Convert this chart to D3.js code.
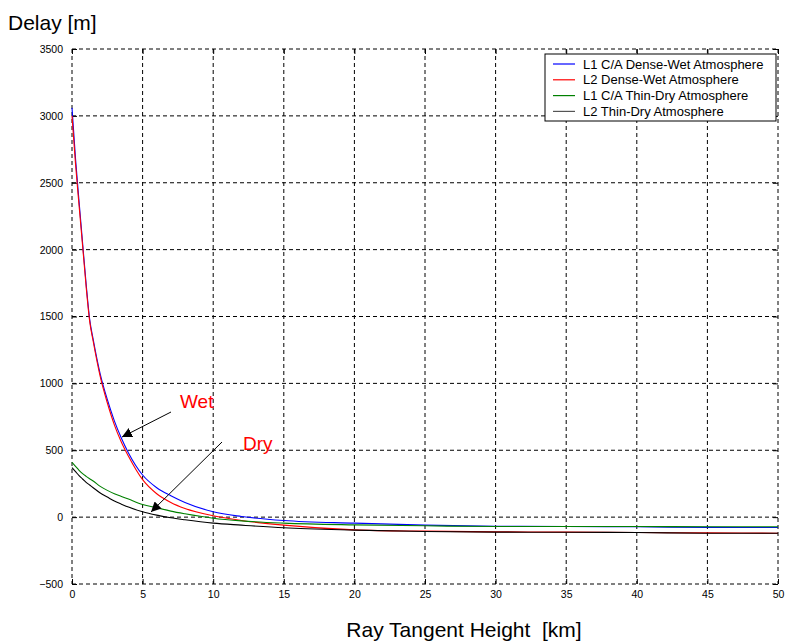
<!DOCTYPE html>
<html><head><meta charset="utf-8">
<script src="https://cdn.jsdelivr.net/npm/d3@7"></script>
<style>body{margin:0;background:#fff}svg{font-family:"Liberation Sans",Arial,sans-serif}</style>
</head><body><svg id="c" width="786" height="642"></svg>
<script>
const heights = [0,0.25,0.5,0.75,1,1.25,1.5,2,2.5,3,3.5,4,5,6,7,8,10,12,15,20,25,30,35,40,45,50];
const l1Wet = [3060,2680,2360,2050,1745,1480,1330,1070,880,720,590,480,315,220,160,110,40,5,-25,-45,-60,-68,-70,-72,-77,-78];
const l2Wet = [3000,2640,2330,2030,1725,1465,1315,1050,855,690,560,455,280,175,110,65,10,-25,-60,-95,-105,-110,-112,-115,-118,-120];
const l1Dry = [410,380,350,325,305,287,270,230,200,175,155,135,95,70,45,25,-8,-28,-45,-58,-65,-70,-70,-70,-72,-72];
const l2Dry = [370,340,310,285,260,240,220,180,150,120,97,75,40,15,-5,-20,-45,-60,-80,-97,-108,-112,-113,-115,-120,-120];
const seriesNames = ["L1 C/A Dense-Wet Atmosphere","L2 Dense-Wet Atmosphere","L1 C/A Thin-Dry Atmosphere","L2 Thin-Dry Atmosphere"];
const xTicks = [0,5,10,15,20,25,30,35,40,45,50];
const yTicks = [-500,0,500,1000,1500,2000,2500,3000,3500];

const series = [
  {name: seriesNames[0], values: l1Wet, color: "#0000ff", legend: "#0000ff"},
  {name: seriesNames[1], values: l2Wet, color: "#ff0000", legend: "#ff0000"},
  {name: seriesNames[2], values: l1Dry, color: "#008000", legend: "#008000"},
  {name: seriesNames[3], values: l2Dry, color: "#000000", legend: "#555555"}
];

const svg = d3.select("#c");
const L = 72, R = 778, T = 49, B = 584;
const x = d3.scaleLinear().domain([0,50]).range([L,R]);
const y = d3.scaleLinear().domain([-500,3500]).range([B,T]);

// grid (dashed, including border)
const g = svg.append("g");
g.selectAll(".gx").data(xTicks).join("line")
  .attr("x1", d=>x(d)).attr("x2", d=>x(d)).attr("y1", T).attr("y2", B)
  .attr("stroke","#000").attr("stroke-width",1).attr("stroke-dasharray","4,3");
g.selectAll(".gy").data(yTicks).join("line")
  .attr("y1", d=>y(d)).attr("y2", d=>y(d)).attr("x1", L).attr("x2", R)
  .attr("stroke","#000").attr("stroke-width",1).attr("stroke-dasharray","4,3");

// axes with inward ticks
const fmt = d3.format("d");
const xa = svg.append("g").attr("transform",`translate(0,${B})`)
  .call(d3.axisBottom(x).tickValues(xTicks).tickFormat(fmt).tickSizeInner(-5).tickSizeOuter(0).tickPadding(7));
const xt = svg.append("g").attr("transform",`translate(0,${T})`)
  .call(d3.axisTop(x).tickValues(xTicks).tickSizeInner(-5).tickSizeOuter(0).tickFormat(""));
const ya = svg.append("g").attr("transform",`translate(${L},0)`)
  .call(d3.axisLeft(y).tickValues(yTicks).tickFormat(fmt).tickSizeInner(-5).tickSizeOuter(0).tickPadding(9));
const yr = svg.append("g").attr("transform",`translate(${R},0)`)
  .call(d3.axisRight(y).tickValues(yTicks).tickSizeInner(-5).tickSizeOuter(0).tickFormat(""));
[xa,xt,ya,yr].forEach(a=>{
  a.select(".domain").remove();
  a.selectAll("text").attr("font-size",10.5).attr("fill","#000").attr("font-family","Liberation Sans, Arial, sans-serif");
});

// lines
const line = d3.line().x((d,i)=>x(heights[i])).y(d=>y(d)).curve(d3.curveMonotoneX);
series.forEach(s=>{
  svg.append("path").attr("d", line(s.values)).attr("fill","none")
    .attr("stroke", s.color).attr("stroke-width",1.1);
});

// legend
const lg = svg.append("g");
lg.append("rect").attr("x",545).attr("y",54).attr("width",231).attr("height",67)
  .attr("fill","#fff").attr("stroke","#000").attr("stroke-width",1);
series.forEach((s,i)=>{
  const yy = 64 + i*15.8;
  lg.append("line").attr("x1",553).attr("x2",575).attr("y1",yy).attr("y2",yy)
    .attr("stroke", s.legend).attr("stroke-width",1.2);
  lg.append("text").attr("x",583).attr("y",yy+4.5).attr("font-size",13).text(s.name);
});

// annotations
const defs = svg.append("defs");
defs.append("marker").attr("id","ah").attr("viewBox","0 0 10 10").attr("refX",10).attr("refY",5)
  .attr("markerWidth",10).attr("markerHeight",10).attr("markerUnits","userSpaceOnUse").attr("orient","auto")
  .append("path").attr("d","M0,0 L10,5 L0,10 z").attr("fill","#000");
svg.append("line").attr("x1",171).attr("y1",412).attr("x2",122).attr("y2",437)
  .attr("stroke","#000").attr("stroke-width",1).attr("marker-end","url(#ah)");
svg.append("line").attr("x1",222).attr("y1",442).attr("x2",151).attr("y2",512)
  .attr("stroke","#000").attr("stroke-width",1).attr("marker-end","url(#ah)");
svg.append("text").attr("x",180).attr("y",408).attr("font-size",19).attr("fill","#ff0000").text("Wet");
svg.append("text").attr("x",243).attr("y",450).attr("font-size",19).attr("fill","#ff0000").text("Dry");

// axis titles
svg.append("text").attr("x",8).attr("y",30).attr("font-size",21).text("Delay [m]");
svg.append("text").attr("x",464).attr("y",637).attr("text-anchor","middle").attr("font-size",21)
  .style("white-space","pre").text("Ray Tangent Height  [km]");
</script></body></html>
